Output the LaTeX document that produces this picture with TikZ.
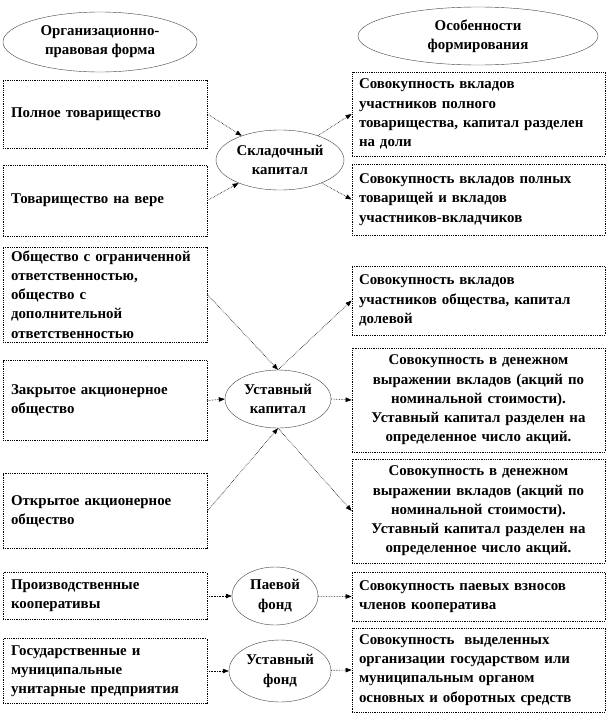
\documentclass[tikz,border=0pt]{standalone}
\usepackage{fontspec}
\setmainfont{Liberation Serif}
\usetikzlibrary{shapes.geometric,arrows.meta}

\begin{document}
\begin{tikzpicture}[
    x=1pt, y=1pt,
    node distance=86pt,
    font=\bfseries\fontsize{14.9}{19.2}\selectfont,
    box/.style={draw, densely dotted, line width=0.8pt, rectangle, align=left, inner ysep=1pt},
    leftbox/.style={box, text width=188pt, inner xsep=8pt},
    rightbox/.style={box, text width=239pt, inner xsep=7pt},
    oval/.style={draw=black!75, ellipse, inner sep=0pt, align=center},
    link/.style={densely dotted, line width=0.6pt, -{Triangle[length=6pt,width=4.5pt]}}
]
\useasboundingbox (0,0) rectangle (607,-726);

% headings
\node (hform) [oval, minimum width=194pt, minimum height=60pt] at (100,-42) {Организационно-\\правовая форма};
\node (hfeat) [oval, minimum width=240pt, minimum height=58pt] at (478,-36) {Особенности\\формирования};

% left column
\node (full) [leftbox, minimum height=68pt] at (105,-114) {Полное товарищество};
\node (limited) [leftbox, minimum height=71pt, node distance=86.5pt, below of=full] {Товарищество на вере};
\node (llc) [leftbox, minimum height=95pt, node distance=94pt, below of=limited] {Общество с ограниченной\\ответственностью,\\общество с\\дополнительной\\ответственностью};
\node (cjsc) [leftbox, minimum height=80pt, node distance=106pt, below of=llc] {Закрытое акционерное\\общество};
\node (ojsc) [leftbox, minimum height=75pt, node distance=110.5pt, below of=cjsc] {Открытое акционерное\\общество};
\node (coop) [leftbox, minimum height=47pt, node distance=85pt, below of=ojsc] {Производственные\\кооперативы};
\node (unitary) [leftbox, minimum height=65pt, node distance=75pt, below of=coop] {Государственные и\\муниципальные\\унитарные предприятия};

% middle
\node (sharecap) [oval, minimum width=128pt, minimum height=60pt] at (280,-160) {Складочный\\капитал};
\node (charter) [oval, minimum width=106pt, minimum height=58pt] at (278,-399) {Уставный\\капитал};
\node (sharefund) [oval, minimum width=86pt, minimum height=58pt] at (275,-596) {Паевой\\фонд};
\node (statfund) [oval, minimum width=102pt, minimum height=62pt] at (280,-671) {Уставный\\фонд};

% right column
\node (fullpart) [rightbox, minimum height=84pt] at (478.5,-114) {Совокупность вкладов\\участников полного\\товарищества, капитал разделен\\на доли};
\node (limpart) [rightbox, minimum height=71pt, node distance=85.5pt, below of=fullpart] {Совокупность вкладов полных\\товарищей и вкладов\\участников-вкладчиков};
\node (llcpart) [rightbox, minimum height=69pt, node distance=101pt, below of=limpart] {Совокупность вкладов\\участников общества, капитал\\долевой};
\node (cjscpart) [rightbox, align=center, minimum height=104pt, node distance=99.5pt, below of=llcpart] {Совокупность в денежном\\выражении вкладов (акций по\\номинальной стоимости).\\Уставный капитал разделен на\\определенное число акций.};
\node (ojscpart) [rightbox, align=center, minimum height=104pt, node distance=111pt, below of=cjscpart] {Совокупность в денежном\\выражении вкладов (акций по\\номинальной стоимости).\\Уставный капитал разделен на\\определенное число акций.};
\node (cooppart) [rightbox, minimum height=49pt, node distance=85.5pt, below of=ojscpart] {Совокупность паевых взносов\\членов кооператива};
\node (unitpart) [rightbox, minimum height=84pt, node distance=73.5pt, below of=cooppart] {Совокупность \ выделенных\\организации государством или\\муниципальным органом\\основных и оборотных средств};

\draw[link] (full.east) -- (sharecap);
\draw[link] (limited.east) -- (sharecap);
\draw[link] (sharecap) -- (fullpart.west);
\draw[link] (sharecap) -- (limpart.west);

\draw[link] (llc.east) -- (charter.north);
\draw[link] (cjsc.east) -- (charter.west);
\draw[link] (ojsc.east) -- (charter.south);
\draw[link] (charter.north) -- (llcpart.west);
\draw[link] (charter.east) -- (cjscpart.west);
\draw[link] (charter.south) -- (ojscpart.west);

\draw[link] (coop.east) -- (sharefund);
\draw[link] (sharefund) -- (cooppart.west);
\draw[link] (unitary.east) -- (statfund);
\draw[link] (statfund) -- (unitpart.west);

\end{tikzpicture}
\end{document}
